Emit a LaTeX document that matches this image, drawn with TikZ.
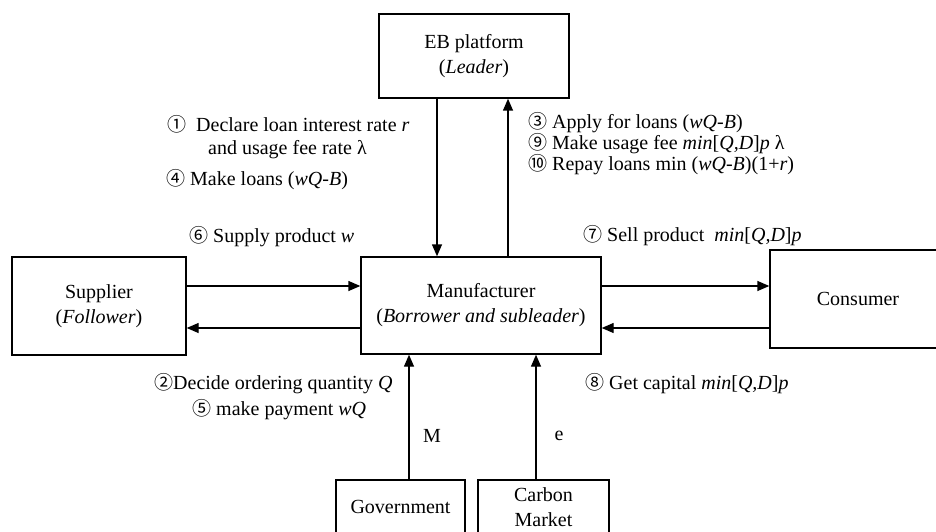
\documentclass[tikz,border=0pt]{standalone}
\usepackage{fontspec}
\setmainfont{Liberation Serif}
\newfontfamily\cjk{Noto Sans CJK SC}
\usetikzlibrary{arrows.meta}
\newcommand{\cn}[1]{{\cjk\fontsize{19}{19}\selectfont #1}}
\begin{document}
\begin{tikzpicture}[x=1pt,y=-1pt,
  font=\fontsize{20}{25}\selectfont,
  box/.style={draw, line width=1.4pt, inner sep=0pt, align=center},
  arr/.style={line width=1.4pt, -{Triangle[length=12pt,width=10pt]}},
  lbl/.style={inner sep=0pt, anchor=west}]
\useasboundingbox (0,0) rectangle (936,532);
\clip (0,0) rectangle (936,532);
% boxes
\node[box, minimum width=190pt, minimum height=84pt] (eb) at (474,56) {EB platform\\(\textit{Leader})};
\node[box, minimum width=174pt, minimum height=98pt] (sup) at (99,306) {Supplier\\(\textit{Follower})};
\node[box, minimum width=240pt, minimum height=97pt] (man) at (481,305.5) {Manufacturer\\(\textit{Borrower and subleader})};
\node[box, minimum width=176pt, minimum height=98pt] (con) at (858,299) {Consumer};
\node[box, minimum width=129pt, minimum height=54pt] (gov) at (400.5,507) {Government};
\node[box, minimum width=131pt, minimum height=54pt] (carb) at (543.5,507) {Carbon\\Market};
% helper coordinates
\coordinate (c1) at (437,0);
\coordinate (c2) at (508,0);
\coordinate (cg) at (409,0);
\coordinate (cc) at (536,0);
\coordinate (r1) at (0,286);
\coordinate (r2) at (0,328);
% connectors
\draw[arr] (eb.south -| c1) -- (man.north -| c1);
\draw[arr] (man.north -| c2) -- (eb.south -| c2);
\draw[arr] (sup.east |- r1) -- (man.west |- r1);
\draw[arr] (man.west |- r2) -- (sup.east |- r2);
\draw[arr] (man.east |- r1) -- (con.west |- r1);
\draw[arr] (con.west |- r2) -- (man.east |- r2);
\draw[arr] (gov.north -| cg) -- (man.south -| cg);
\draw[arr] (carb.north -| cc) -- (man.south -| cc);
% labels
\node[lbl] (l1) at (167,124) {\cn{①}\ \ Declare loan interest rate \textit{r}};
\node[lbl] (l1b) at (208,150) {and usage fee rate λ};
\node[lbl] (l4) at (166,180) {\cn{④} Make loans (\textit{wQ-B})};
\node[lbl] (l6) at (189,237) {\cn{⑥} Supply product \textit{w}};
\node[lbl] (l3) at (528,123) {\cn{③} Apply for loans (\textit{wQ-B})};
\node[lbl] (l9) at (528,144) {\cn{⑨} Make usage fee \textit{min}[\textit{Q,D}]\textit{p} λ};
\node[lbl] (l10) at (528,165) {\cn{⑩} Repay loans min (\textit{wQ-B})(1+\textit{r})};
\node[lbl] (l7) at (583,236) {\cn{⑦} Sell product \ \textit{min}[\textit{Q,D}]\textit{p}};
\node[lbl] (l2) at (154,384) {\cn{②}Decide ordering quantity \textit{Q}};
\node[lbl] (l5) at (192,410) {\cn{⑤} make payment \textit{wQ}};
\node[lbl] (l8) at (585,384) {\cn{⑧} Get capital \textit{min}[\textit{Q,D}]\textit{p}};
\node[inner sep=0pt] (lm) at (432,436) {M};
\node[inner sep=0pt] (le) at (559,436) {e};
\end{tikzpicture}
\end{document}
